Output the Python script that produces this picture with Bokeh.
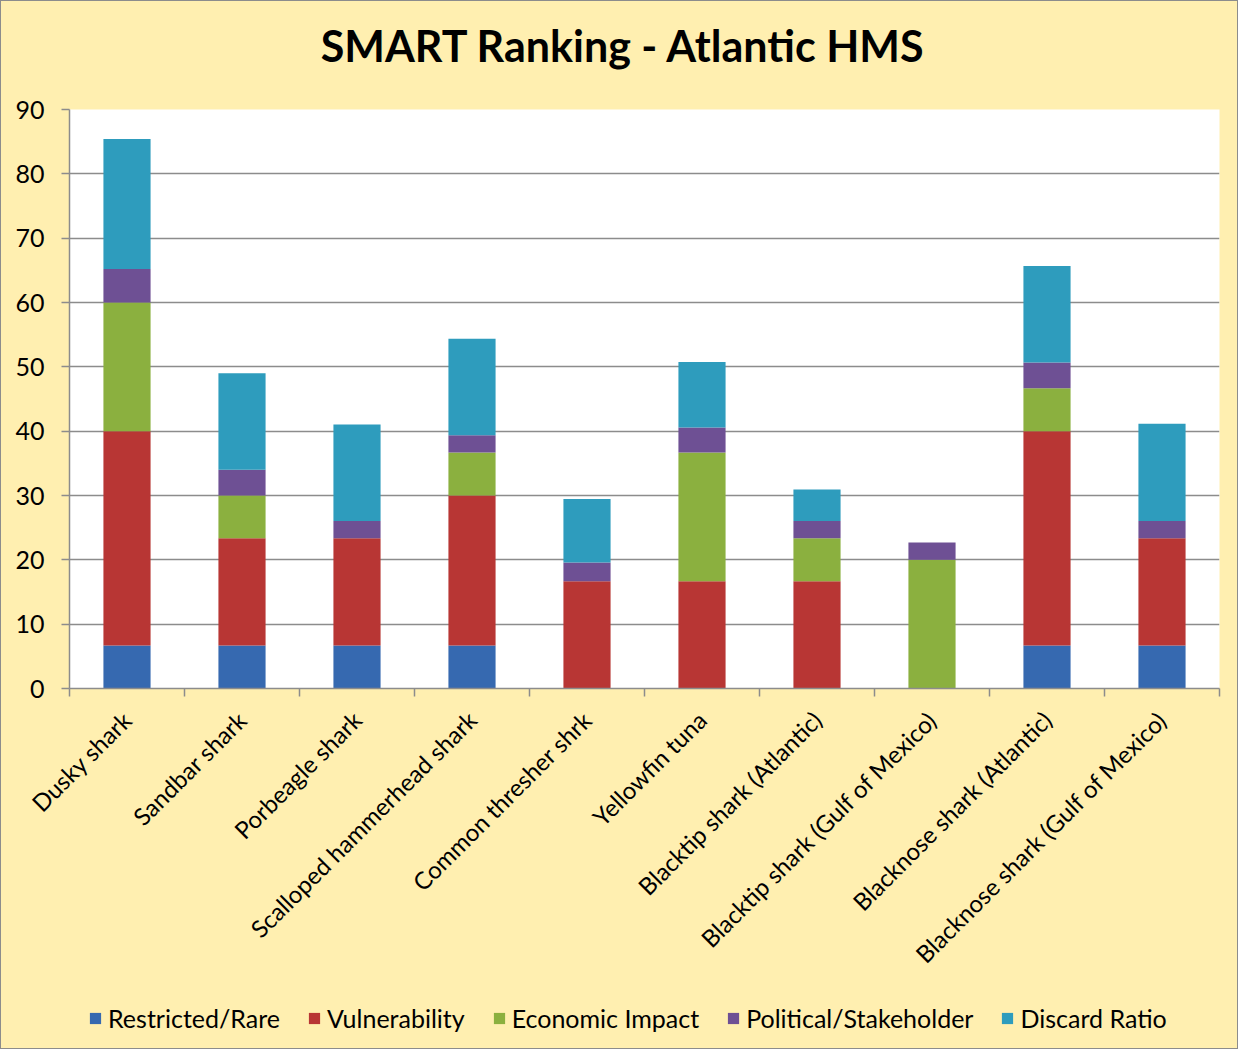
import math
from bokeh.plotting import figure
from bokeh.layouts import column
from bokeh.models import ColumnDataSource, Range1d, FixedTicker, Legend, LegendItem, Label
from bokeh.embed import file_html
from bokeh.resources import INLINE

species = ["Dusky shark", "Sandbar shark", "Porbeagle shark", "Scalloped hammerhead shark",
           "Common thresher shrk", "Yellowfin tuna", "Blacktip shark (Atlantic)",
           "Blacktip shark (Gulf of Mexico)", "Blacknose shark (Atlantic)",
           "Blacknose shark (Gulf of Mexico)"]
restricted = [6.67, 6.67, 6.67, 6.67, 0, 0, 0, 0, 6.67, 6.67]
vulnerability = [33.33, 16.67, 16.67, 23.33, 16.67, 16.67, 16.67, 0, 33.33, 16.67]
economic = [20, 6.67, 0, 6.67, 0, 20, 6.67, 20, 6.67, 0]
political = [5.2, 4.0, 2.7, 2.7, 2.9, 3.9, 2.7, 2.7, 4.0, 2.7]
discard = [20.2, 15.0, 15.0, 15.0, 9.9, 10.2, 4.9, 0, 15.0, 15.1]
series_names = ["Restricted/Rare", "Vulnerability", "Economic Impact",
                "Political/Stakeholder", "Discard Ratio"]
y_ticks = [0, 10, 20, 30, 40, 50, 60, 70, 80, 90]
title_text = "SMART Ranking - Atlantic HMS"

colors = ["#3669B0", "#B83634", "#8BB03F", "#6E5094", "#2E9CBD"]
BG = "#FFEFB0"
FONT = "Lato"
stack_cols = ["restricted", "vulnerability", "economic", "political", "discard"]

n = len(species)
xc = [i + 0.5 for i in range(n)]
src = ColumnDataSource(dict(x=xc, restricted=restricted, vulnerability=vulnerability,
                            economic=economic, political=political, discard=discard))


def strip(h):
    f = figure(width=1236, height=h, output_backend="svg", toolbar_location=None,
               x_range=Range1d(100, 101), y_range=Range1d(500, 501),
               x_axis_location=None, y_axis_location=None,
               min_border_left=68, min_border_right=18, min_border_top=0, min_border_bottom=0)
    f.background_fill_alpha = 0
    f.border_fill_alpha = 0
    f.outline_line_color = None
    f.xgrid.visible = False
    f.ygrid.visible = False
    return f


# ---- title strip
top = strip(89)
top.add_layout(Label(x=554, y=45, x_units="screen", y_units="screen", text=title_text,
                     text_align="center", text_baseline="alphabetic",
                     text_font=FONT, text_font_size="43px", text_font_style="bold",
                     text_color="black"))

# ---- main chart
p = figure(width=1236, height=898, output_backend="svg", toolbar_location=None,
           x_range=Range1d(0, n), y_range=Range1d(0, 90),
           min_border_left=68, min_border_right=18, min_border_top=19,
           min_border_bottom=300)
p.background_fill_color = "white"
p.border_fill_alpha = 0
p.outline_line_color = None

p.vbar_stack(stack_cols, x="x", width=0.41, color=colors, line_color=None, source=src)

p.yaxis.ticker = FixedTicker(ticks=y_ticks)
p.yaxis.axis_line_color = "#8c8c8c"
p.yaxis.axis_line_width = 1.5
p.yaxis.major_tick_line_color = "#8c8c8c"
p.yaxis.major_tick_line_width = 1.5
p.yaxis.major_tick_in = 0
p.yaxis.major_tick_out = 8
p.yaxis.minor_tick_line_color = None
p.yaxis.major_label_standoff = 17
p.yaxis.major_label_text_font = FONT
p.yaxis.major_label_text_font_size = "25px"
p.yaxis.major_label_text_color = "black"

p.xaxis.ticker = FixedTicker(ticks=xc, minor_ticks=list(range(n + 1)))
p.xaxis.major_label_overrides = {x: s for x, s in zip(xc, species)}
p.xaxis.major_label_orientation = math.pi / 4
p.xaxis.major_label_text_font = FONT
p.xaxis.major_label_text_font_size = "24px"
p.xaxis.major_label_text_color = "black"
p.xaxis.major_label_standoff = 19
p.xaxis.major_tick_line_color = None
p.xaxis.major_tick_out = 8
p.xaxis.minor_tick_line_color = "#8c8c8c"
p.xaxis.minor_tick_line_width = 1.5
p.xaxis.minor_tick_in = 0
p.xaxis.minor_tick_out = 8
p.xaxis.axis_line_color = "#8c8c8c"
p.xaxis.axis_line_width = 1.5

p.xgrid.grid_line_color = None
p.ygrid.ticker = FixedTicker(ticks=y_ticks)
p.ygrid.grid_line_color = "#8c8c8c"
p.ygrid.grid_line_width = 1.5

# ---- legend strip (hidden renderers; only the legend swatches are shown)
lg = strip(60)
lrs = lg.vbar_stack(stack_cols, x="x", width=0.41, color=colors, line_color=None, source=src)
for r in lrs:
    r.visible = False
legend = Legend(items=[LegendItem(label=nm, renderers=[r]) for nm, r in zip(series_names, lrs)],
                orientation="horizontal", location=(19, 15),
                background_fill_alpha=0, border_line_color=None,
                inactive_fill_alpha=0,
                padding=0, margin=0, spacing=27,
                label_standoff=6, glyph_width=14, glyph_height=14,
                label_text_font=FONT, label_text_font_size="25px", label_text_color="black")
lg.add_layout(legend, "center")

layout = column(top, p, lg, spacing=0)
layout.styles = {"border": "1px solid #8c8c8c", "box-sizing": "border-box",
                 "background-color": BG}

open("out.html", "w").write(file_html(layout, INLINE))
